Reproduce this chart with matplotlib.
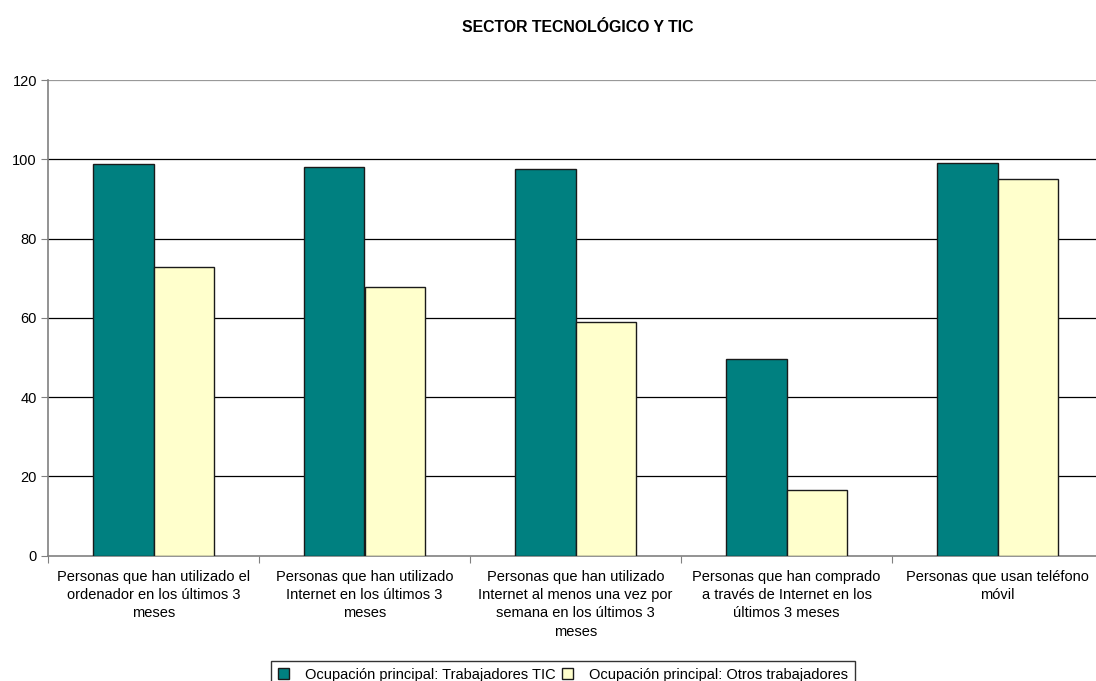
import matplotlib
matplotlib.use("Agg")
import matplotlib.pyplot as plt
import numpy as np

plt.rcParams['font.family'] = ['Liberation Sans', 'DejaVu Sans']

categories = [
    "Personas que han utilizado el\nordenador en los últimos 3\nmeses",
    "Personas que han utilizado\nInternet en los últimos 3\nmeses",
    "Personas que han utilizado\nInternet al menos una vez por\nsemana en los últimos 3\nmeses",
    "Personas que han comprado\na través de Internet en los\núltimos 3 meses",
    "Personas que usan teléfono\nmóvil",
]
series_names = ["Ocupación principal: Trabajadores TIC",
                "Ocupación principal: Otros trabajadores"]
tic = [98.7, 98.0, 97.6, 49.5, 99.1]
otros = [72.9, 67.9, 59.0, 16.6, 95.0]
yticks = [0, 20, 40, 60, 80, 100, 120]

fig = plt.figure(figsize=(10.96, 6.81), dpi=100)
ax = fig.add_axes([48/1096, (681-555.7)/681, 1055/1096, (555.7-80)/681])

x = np.arange(len(categories))
w = 0.287
ax.bar(x - w/2, tic, w, color='#008080', edgecolor='#1a1a1a', linewidth=1.0,
       label=series_names[0], zorder=3)
ax.bar(x + w/2, otros, w, color='#FFFFCC', edgecolor='#1a1a1a', linewidth=1.0,
       label=series_names[1], zorder=3)

ax.set_xlim(-0.5, len(categories) - 0.5)
ax.set_ylim(0, 120)
ax.set_yticks(yticks)
ax.set_yticklabels([str(v) for v in yticks], fontsize=10.5)
for v in yticks[1:]:
    ax.axhline(v, color='#000000' if v < 120 else '#999999', linewidth=0.9, zorder=1)

ax.set_xticks(np.arange(len(categories) + 1) - 0.5, minor=False)
ax.set_xticklabels([])
ax.set_xticks(x, minor=True)
ax.set_xticklabels(categories, minor=True, fontsize=10.5, linespacing=1.4)
ax.tick_params(axis='x', which='minor', length=0, pad=10)
ax.tick_params(axis='x', which='major', length=5, color='#808080', direction='out')
ax.tick_params(axis='y', length=5, color='#808080', direction='out', pad=3)

for s in ['top', 'right']:
    ax.spines[s].set_visible(False)
ax.spines['left'].set_color('#808080')
ax.spines['bottom'].set_color('#808080')
ax.spines['left'].set_linewidth(1.2)
ax.spines['bottom'].set_linewidth(1.2)

fig.text(578/1096, 1 - 27/681, "SECTOR TECNOLÓGICO Y TIC", ha='center', va='center',
         fontsize=11.4, fontweight='bold')

leg = fig.legend(loc='upper left', bbox_to_anchor=(271/1096, 1 - 661/681), ncol=2,
                 fontsize=10.5, frameon=True, fancybox=False, edgecolor='black',
                 handlelength=0.75, handleheight=0.75, handletextpad=1.1,
                 columnspacing=0.5, borderpad=0.45, borderaxespad=0)
leg.get_frame().set_linewidth(1.0)

fig.savefig("out.png", dpi=100)
